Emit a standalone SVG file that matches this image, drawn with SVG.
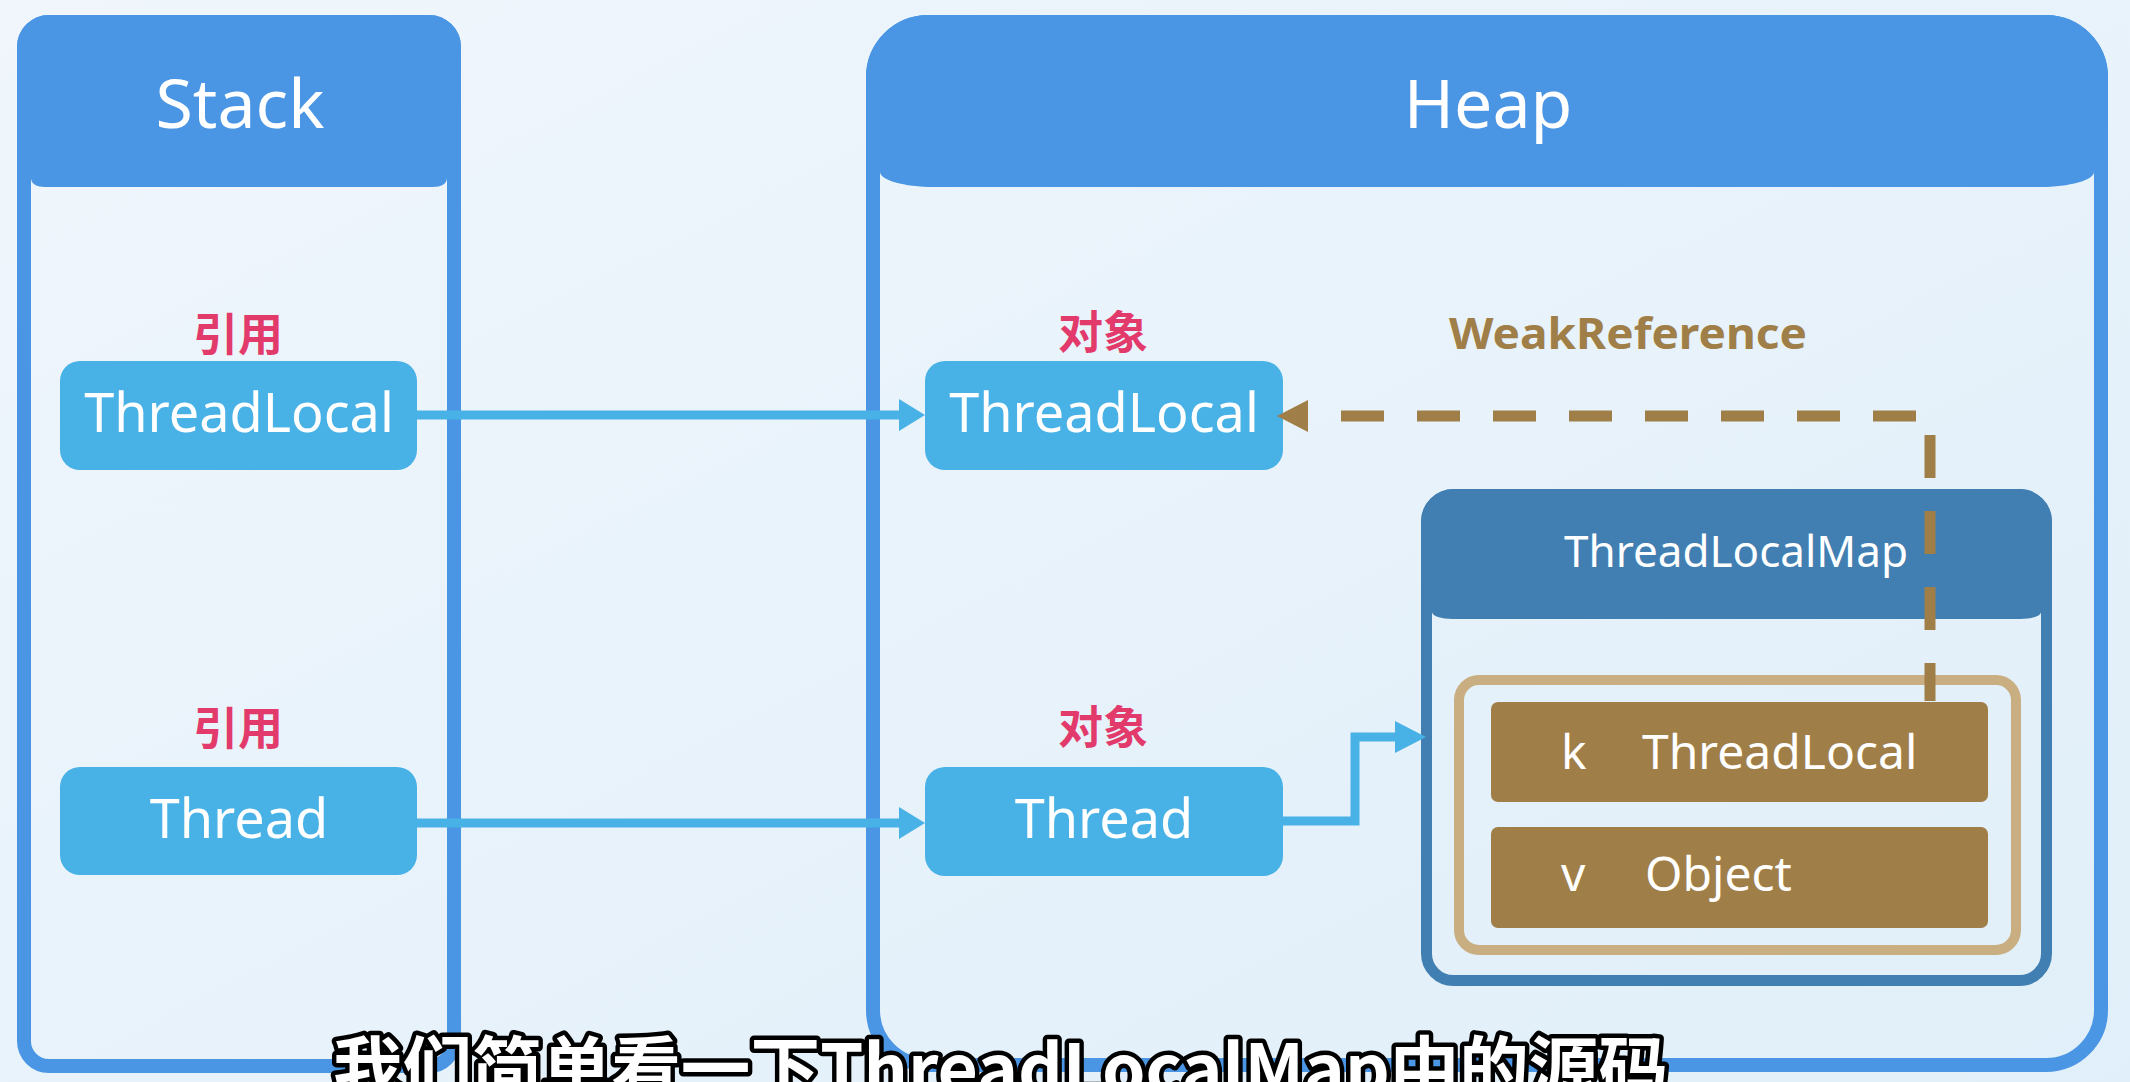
<svg xmlns="http://www.w3.org/2000/svg" width="2130" height="1082" viewBox="0 0 2130 1082">
<defs>
<linearGradient id="bg" x1="0" y1="0" x2="1" y2="1">
<stop offset="0" stop-color="#f0f6fc"/>
<stop offset="1" stop-color="#e0eff9"/>
</linearGradient>
<style>
.box{fill:none;stroke:#4a96e4;stroke-width:14}
.hdr{fill:#4a96e4}
.title{font-family:"Noto Sans","Open Sans",sans-serif;font-size:68px;fill:#ffffff;text-anchor:middle}
.node{fill:#48b1e6}
.ntext{font-family:"Noto Sans","Open Sans",sans-serif;font-size:54px;fill:#ffffff;text-anchor:middle}
.tag{font-family:"Noto Sans CJK SC","Noto Sans",sans-serif;font-size:45px;font-weight:bold;fill:#e23b6b;text-anchor:middle}
.blue{stroke:#48b1e6;stroke-width:9;fill:none}
.bhead{fill:#48b1e6}
.brown{fill:#a07e48}
.rtext{font-family:"Noto Sans","Open Sans",sans-serif;font-size:48px;fill:#ffffff}
.sub{font-family:"Noto Sans CJK SC","Noto Sans",sans-serif;font-size:70px;font-weight:bold;fill:#ffffff;stroke:#000000;stroke-width:9;paint-order:stroke;stroke-linejoin:round}
</style>
</defs>
<rect x="0" y="0" width="2130" height="1082" fill="url(#bg)"/>

<g id="stack">
<rect class="box" x="24" y="22" width="430" height="1044" rx="25"/>
<path class="hdr" d="M17,47 A32,32 0 0 1 49,15 H429 A32,32 0 0 1 461,47 V178 H447 C447,184 441,187 433,187 H45 C37,187 31,184 31,178 H17 Z"/>
<text class="title" x="240" y="128">Stack</text>
</g>

<g id="heap">
<rect class="box" x="873" y="22" width="1228" height="1043" rx="55"/>
<path class="hdr" d="M866,77 A62,62 0 0 1 928,15 H2046 A62,62 0 0 1 2108,77 V172 H2094 C2094,180 2070,187 2040,187 H934 C904,187 880,180 880,172 H866 Z"/>
<text class="title" x="1488" y="128">Heap</text>
</g>

<g id="stack-threadlocal">
<text class="tag" x="238" y="351">引用</text>
<rect class="node" x="60" y="361" width="357" height="109" rx="20"/>
<text class="ntext" x="239" y="432">ThreadLocal</text>
</g>

<g id="stack-thread">
<text class="tag" x="238" y="745">引用</text>
<rect class="node" x="60" y="767" width="357" height="108" rx="20"/>
<text class="ntext" x="239" y="838">Thread</text>
</g>

<g id="heap-threadlocal">
<text class="tag" x="1103" y="349">对象</text>
<rect class="node" x="925" y="361" width="358" height="109" rx="20"/>
<text class="ntext" x="1104" y="432">ThreadLocal</text>
</g>

<g id="heap-thread">
<text class="tag" x="1103" y="744">对象</text>
<rect class="node" x="925" y="767" width="358" height="109" rx="20"/>
<text class="ntext" x="1104" y="838">Thread</text>
</g>

<g id="threadlocalmap">
<rect x="1426.5" y="494.5" width="620" height="486" rx="27" fill="none" stroke="#417fb2" stroke-width="11"/>
<path fill="#417fb2" d="M1421,522 A33,33 0 0 1 1454,489 H2019 A33,33 0 0 1 2052,522 V612 H2041 C2041,616 2032,619 2020,619 H1453 C1441,619 1432,616 1432,612 H1421 Z"/>
<text x="1736" y="567" font-family="Noto Sans, Open Sans, sans-serif" font-size="44" fill="#ffffff" text-anchor="middle">ThreadLocalMap</text>
<rect x="1459" y="680" width="557" height="270" rx="20" fill="none" stroke="#c8ae80" stroke-width="10"/>
</g>

<g id="entry-k">
<rect class="brown" x="1491" y="702" width="497" height="100" rx="7"/>
<text class="rtext" x="1561" y="769">k</text>
<text class="rtext" x="1642" y="769">ThreadLocal</text>
</g>

<g id="entry-v">
<rect class="brown" x="1491" y="827" width="497" height="101" rx="7"/>
<text class="rtext" x="1561" y="891">v</text>
<text class="rtext" x="1645" y="891">Object</text>
</g>

<g id="weakref-label">
<text x="1449" y="349" font-family="Noto Sans, Open Sans, sans-serif" font-size="43" font-weight="bold" fill="#a07e48" textLength="358" lengthAdjust="spacingAndGlyphs">WeakReference</text>
</g>

<g id="connectors">
<line class="blue" x1="417" y1="415" x2="901" y2="415"/>
<polygon class="bhead" points="899,399 925,415 899,431"/>
<line class="blue" x1="417" y1="823" x2="901" y2="823"/>
<polygon class="bhead" points="899,807 925,823 899,839"/>
<polyline class="blue" points="1283,821 1355,821 1355,737 1397,737"/>
<polygon class="bhead" points="1395,721 1426,737 1395,753"/>
<path d="M1930,701 V416 H1308" fill="none" stroke="#a07e48" stroke-width="11" stroke-dasharray="43 33" stroke-dashoffset="5"/>
<polygon class="brown" points="1308,400 1277,416 1308,432"/>
</g>

<text class="sub" x="333" y="1095" textLength="1335" lengthAdjust="spacingAndGlyphs">我们简单看一下ThreadLocalMap中的源码</text>
</svg>
